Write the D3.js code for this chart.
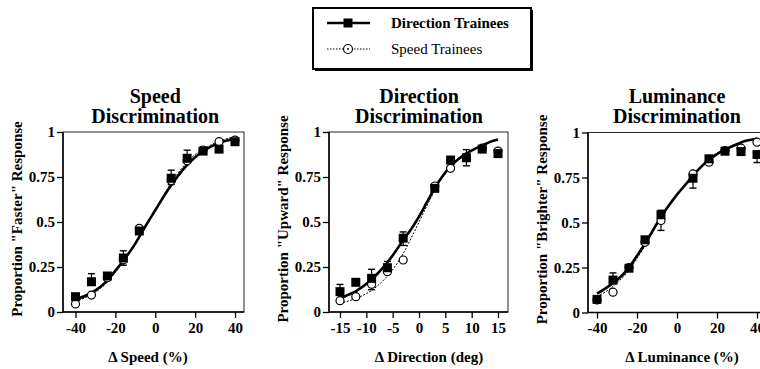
<!DOCTYPE html>
<html>
<head>
<meta charset="utf-8">
<script src="https://cdn.jsdelivr.net/npm/d3@7"></script>
<style>
  body { margin: 0; background: #fff; }
  svg { display: block; font-family: "Liberation Serif", "Times New Roman", serif; }
</style>
</head>
<body>
<script>
// ---- data ----
// points: Direction trainees (filled squares), Speed trainees (open circles)
const speedX = [-40, -32, -24, -16, -8, 8, 16, 24, 32, 40]
const speedDir = [0.085, 0.168, 0.20, 0.30, 0.45, 0.743, 0.854, 0.894, 0.905, 0.946]
const speedSpd = [0.045, 0.094, 0.19, 0.29, 0.465, 0.73, 0.84, 0.90, 0.946, 0.955]
const speedDirUp = [0, 0.045, 0, 0.04, 0.01, 0.045, 0.045, 0, 0, 0]
const speedDirDown = [0, 0, 0, 0.04, 0, 0.035, 0, 0, 0, 0]
const speedSpdDown = [0, 0, 0, 0, 0, 0, 0, 0, 0, 0]

const dirX = [-15, -12, -9, -6, -3, 3, 6, 9, 12, 15]
const dirDir = [0.113, 0.165, 0.187, 0.246, 0.41, 0.687, 0.844, 0.857, 0.905, 0.88]
const dirSpd = [0.063, 0.085, 0.154, 0.224, 0.289, 0.70, 0.798, 0.86, 0.91, 0.894]
const dirDirUp = [0.04, 0, 0.05, 0.035, 0.035, 0, 0, 0.045, 0, 0]
const dirDirDown = [0, 0, 0, 0.03, 0.04, 0, 0, 0.045, 0, 0]
const dirSpdDown = [0, 0, 0.03, 0, 0, 0, 0, 0, 0, 0]

const lumX = [-40, -32, -24, -16, -8, 8, 16, 24, 32, 40]
const lumDir = [0.073, 0.18, 0.246, 0.404, 0.543, 0.746, 0.854, 0.896, 0.894, 0.878]
const lumSpd = [0.07, 0.113, 0.25, 0.39, 0.511, 0.77, 0.835, 0.90, 0.913, 0.946]
const lumDirUp = [0, 0.04, 0, 0, 0.025, 0.03, 0, 0, 0, 0]
const lumDirDown = [0, 0, 0, 0, 0, 0.055, 0, 0, 0, 0.045]
const lumSpdDown = [0, 0, 0, 0, 0.055, 0, 0, 0, 0, 0]

// fitted curves, read at regular x positions
const fitX40 = [-40, -35, -30, -25, -20, -15, -10, -5, 0, 5, 10, 15, 20, 25, 30, 35, 40]
const fitX15 = [-15, -13.5, -12, -10.5, -9, -7.5, -6, -4.5, -3, -1.5, 0, 1.5, 3, 4.5, 6, 7.5, 9, 10.5, 12, 13.5, 15]

const speedDirFit = [0.07, 0.09, 0.12, 0.165, 0.23, 0.30, 0.38, 0.475, 0.565, 0.655, 0.735, 0.805, 0.86, 0.90, 0.93, 0.95, 0.963]
const speedSpdFit = [0.06, 0.08, 0.11, 0.155, 0.22, 0.295, 0.38, 0.475, 0.57, 0.665, 0.75, 0.82, 0.875, 0.91, 0.94, 0.96, 0.972]
const dirDirFit = [0.075, 0.095, 0.115, 0.145, 0.18, 0.225, 0.275, 0.335, 0.40, 0.46, 0.53, 0.61, 0.69, 0.755, 0.81, 0.85, 0.88, 0.905, 0.925, 0.945, 0.958]
const dirSpdFit = [0.05, 0.06, 0.075, 0.095, 0.12, 0.155, 0.20, 0.255, 0.325, 0.41, 0.50, 0.59, 0.675, 0.75, 0.81, 0.85, 0.88, 0.905, 0.925, 0.945, 0.958]
const lumDirFit = [0.105, 0.14, 0.18, 0.235, 0.315, 0.40, 0.495, 0.58, 0.655, 0.72, 0.785, 0.84, 0.88, 0.91, 0.935, 0.955, 0.965]
const lumSpdFit = [0.09, 0.12, 0.165, 0.22, 0.30, 0.39, 0.485, 0.575, 0.655, 0.725, 0.79, 0.845, 0.885, 0.915, 0.94, 0.955, 0.968]

const yTicks = [0, 0.25, 0.5, 0.75, 1]
const ticks40 = [-40, -20, 0, 20, 40]
const ticks15 = [-15, -10, -5, 0, 5, 10, 15]

const panels = [
    { left: 63, top: 132, w: 181, h: 180, padL: 12.5, padR: 9, domain: [-40, 40], xTicks: ticks40,
      x: speedX, dir: speedDir, spd: speedSpd, dirUp: speedDirUp, dirDown: speedDirDown, spdDown: speedSpdDown,
      fitX: fitX40, dirFit: speedDirFit, spdFit: speedSpdFit,
      title: ["Speed", "Discrimination"], yTitle: 'Proportion "Faster" Response', xTitle: "\u0394 Speed (%)", xTitleX: 148 },
    { left: 329, top: 132, w: 179, h: 180, padL: 11, padR: 10, domain: [-15, 15], xTicks: ticks15,
      x: dirX, dir: dirDir, spd: dirSpd, dirUp: dirDirUp, dirDown: dirDirDown, spdDown: dirSpdDown,
      fitX: fitX15, dirFit: dirDirFit, spdFit: dirSpdFit,
      title: ["Direction", "Discrimination"], yTitle: 'Proportion "Upward" Response', xTitle: "\u0394 Direction (deg)", xTitleX: 429 },
    { left: 588, top: 132.5, w: 178, h: 180, padL: 9, padR: 9, domain: [-40, 40], xTicks: ticks40,
      x: lumX, dir: lumDir, spd: lumSpd, dirUp: lumDirUp, dirDown: lumDirDown, spdDown: lumSpdDown,
      fitX: fitX40, dirFit: lumDirFit, spdFit: lumSpdFit,
      title: ["Luminance", "Discrimination"], yTitle: 'Proportion "Brighter" Response', xTitle: "\u0394 Luminance (%)", xTitleX: 682 }
]

const svg = d3.select("body")
    .append("svg")
    .attr("width", 760)
    .attr("height", 369)

panels.forEach(p => {
    const x = d3.scaleLinear()
        .domain(p.domain)
        .range([p.left + p.padL, p.left + p.w - p.padR])
    const y = d3.scaleLinear()
        .domain([0, 1])
        .range([p.top + p.h, p.top])

    const g = svg.append("g")

    // frame
    g.append("rect")
        .attr("x", p.left).attr("y", p.top)
        .attr("width", p.w).attr("height", p.h)
        .attr("fill", "none")
        .attr("stroke", "#222")
        .attr("stroke-width", 1)

    // axes
    const yAxis = g.append("g")
        .attr("transform", `translate(${p.left},0)`)
        .call(d3.axisLeft(y).tickValues(yTicks).tickFormat(d => d).tickSize(6).tickPadding(2))
    const xAxis = g.append("g")
        .attr("transform", `translate(0,${p.top + p.h})`)
        .call(d3.axisBottom(x).tickValues(p.xTicks).tickFormat(d => d).tickSize(6).tickPadding(4))
    ;[xAxis, yAxis].forEach(a => {
        a.select(".domain").remove()
        a.selectAll("line").attr("stroke", "#000").attr("stroke-width", 1.3)
        a.selectAll("text")
            .attr("fill", "#000")
            .style("font-family", '"Liberation Serif", serif')
            .style("font-size", "15px")
            .style("font-weight", "bold")
    })
    // axis lines
    g.append("line")
        .attr("x1", p.left).attr("x2", p.left)
        .attr("y1", p.top).attr("y2", p.top + p.h)
        .attr("stroke", "#000").attr("stroke-width", 1.5)
    g.append("line")
        .attr("x1", p.left).attr("x2", p.left + p.w)
        .attr("y1", p.top + p.h).attr("y2", p.top + p.h)
        .attr("stroke", "#000").attr("stroke-width", 1.5)

    // fitted curves
    const line = d3.line()
        .x(d => x(d[0]))
        .y(d => y(d[1]))
        .curve(d3.curveMonotoneX)
    g.append("path")
        .datum(d3.zip(p.fitX, p.spdFit))
        .attr("d", line)
        .attr("fill", "none")
        .attr("stroke", "#000")
        .attr("stroke-width", 1)
        .attr("stroke-dasharray", "2,1.5")
    g.append("path")
        .datum(d3.zip(p.fitX, p.dirFit))
        .attr("d", line)
        .attr("fill", "none")
        .attr("stroke", "#000")
        .attr("stroke-width", 2.6)

    // error bars (one-sided caps)
    const bars = []
    p.x.forEach((xv, i) => {
        if (p.dirUp[i]) bars.push([xv, p.dir[i], p.dir[i] + p.dirUp[i]])
        if (p.dirDown[i]) bars.push([xv, p.dir[i], p.dir[i] - p.dirDown[i]])
        if (p.spdDown[i]) bars.push([xv, p.spd[i], p.spd[i] - p.spdDown[i]])
    })
    const eb = g.selectAll(".eb")
        .data(bars)
        .enter()
        .append("g")
    eb.append("line")
        .attr("x1", d => x(d[0])).attr("x2", d => x(d[0]))
        .attr("y1", d => y(d[1])).attr("y2", d => y(d[2]))
        .attr("stroke", "#000").attr("stroke-width", 1.2)
    eb.append("line")
        .attr("x1", d => x(d[0]) - 3.5).attr("x2", d => x(d[0]) + 3.5)
        .attr("y1", d => y(d[2])).attr("y2", d => y(d[2]))
        .attr("stroke", "#000").attr("stroke-width", 1.4)

    // speed trainees: open circles
    g.selectAll(".spd")
        .data(d3.zip(p.x, p.spd))
        .enter()
        .append("circle")
        .attr("cx", d => x(d[0]))
        .attr("cy", d => y(d[1]))
        .attr("r", 4)
        .attr("fill", "#fff")
        .attr("stroke", "#000")
        .attr("stroke-width", 1.2)

    // direction trainees: filled squares
    g.selectAll(".dir")
        .data(d3.zip(p.x, p.dir))
        .enter()
        .append("rect")
        .attr("x", d => x(d[0]) - 4.5)
        .attr("y", d => y(d[1]) - 4.5)
        .attr("width", 9)
        .attr("height", 9)
        .attr("fill", "#000")

    // titles
    const cx = x(0)
    g.append("text")
        .attr("x", cx).attr("y", 103)
        .attr("text-anchor", "middle")
        .style("font-size", "20px").style("font-weight", "bold")
        .text(p.title[0])
    g.append("text")
        .attr("x", cx).attr("y", 123)
        .attr("text-anchor", "middle")
        .style("font-size", "20px").style("font-weight", "bold")
        .text(p.title[1])

    g.append("text")
        .attr("transform", `translate(${p.left - 41},${p.top + p.h / 2 - 3}) rotate(-90)`)
        .attr("text-anchor", "middle")
        .style("font-size", "15px").style("font-weight", "bold")
        .text(p.yTitle)

    g.append("text")
        .attr("x", p.xTitleX).attr("y", 362)
        .attr("text-anchor", "middle")
        .style("font-size", "15px").style("font-weight", "bold")
        .text(p.xTitle)
})

// legend
const lg = svg.append("g")
lg.append("rect")
    .attr("x", 315).attr("y", 10)
    .attr("width", 218).attr("height", 61)
    .attr("fill", "#000")
lg.append("rect")
    .attr("x", 313).attr("y", 8)
    .attr("width", 218).attr("height", 61)
    .attr("fill", "#fff")
    .attr("stroke", "#000")
    .attr("stroke-width", 2)

lg.append("line")
    .attr("x1", 327).attr("x2", 370).attr("y1", 23).attr("y2", 23)
    .attr("stroke", "#000").attr("stroke-width", 2.4)
lg.append("rect")
    .attr("x", 343.5).attr("y", 18.5).attr("width", 9).attr("height", 9)
    .attr("fill", "#000")
lg.append("text")
    .attr("x", 391).attr("y", 28)
    .style("font-size", "15px").style("font-weight", "bold")
    .text("Direction Trainees")

lg.append("line")
    .attr("x1", 327).attr("x2", 370).attr("y1", 49).attr("y2", 49)
    .attr("stroke", "#000").attr("stroke-width", 1)
    .attr("stroke-dasharray", "1.5,1.5")
lg.append("circle")
    .attr("cx", 348).attr("cy", 49).attr("r", 4.5)
    .attr("fill", "#fff").attr("stroke", "#000").attr("stroke-width", 1.2)
lg.append("circle")
    .attr("cx", 348).attr("cy", 49).attr("r", 1)
    .attr("fill", "#000")
lg.append("text")
    .attr("x", 391).attr("y", 54)
    .style("font-size", "15px")
    .text("Speed Trainees")
</script>
</body>
</html>
